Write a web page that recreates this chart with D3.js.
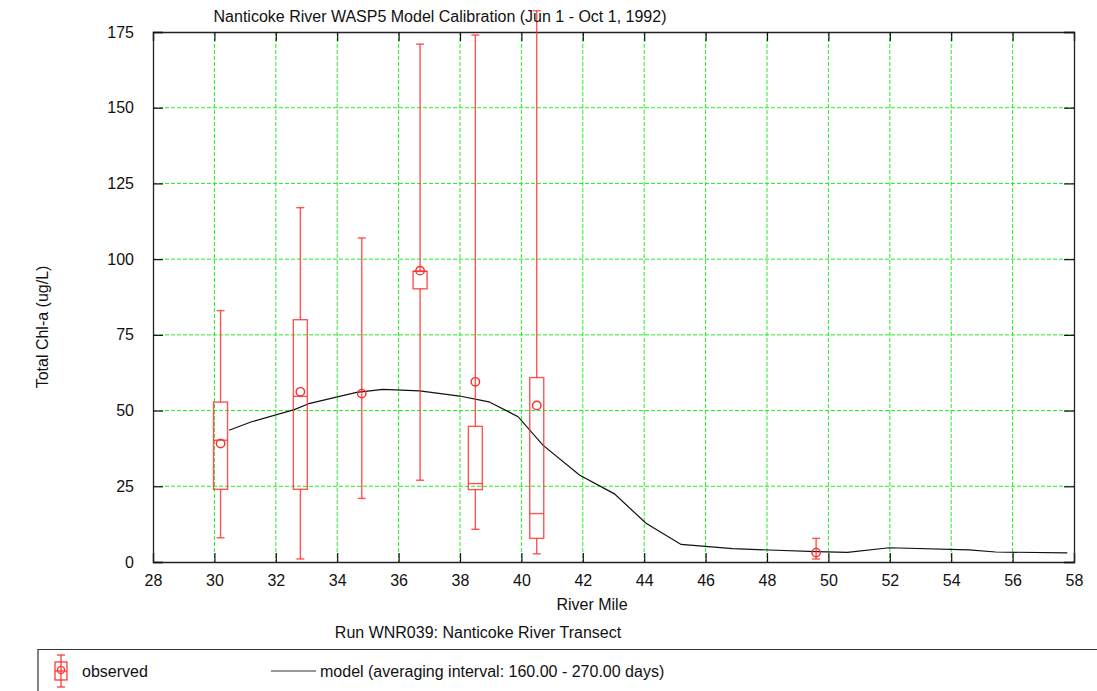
<!DOCTYPE html>
<html><head><meta charset="utf-8">
<script src="https://cdn.jsdelivr.net/npm/d3@7"></script>
<style>body{margin:0;background:#fff;} text{font-family:"Liberation Sans",Arial,sans-serif;}</style>
</head><body><svg id="c" width="1097" height="691"></svg>
<script>
// Observed stations (river mile) and statistics
const obsMile   = [30.2, 32.8, 34.8, 36.7, 38.5, 40.5, 49.6];
const obsMin    = [8, 1, 21, 27, 10.8, 2.7, 1.0];
const obsQ1     = [24, 24, null, 90.2, 23.9, 7.8, null];
const obsMedian = [40.2, 54.7, null, 96, 25.9, 16, null];
const obsQ3     = [52.8, 80, null, 96, 44.8, 60.9, null];
const obsMax    = [83, 117, 107, 171, 174, 182, 7.8];
const obsMean   = [39.1, 56.2, 55.6, 96.2, 59.5, 51.7, 3.1];
// Model transect
const modelMile = [30.48,31.21,32.60,33.11,34.63,35.49,36.69,37.99,38.94,39.89,40.70,41.89,43.03,44.06,45.20,46.88,49.60,50.62,51.98,54.58,55.45,57.78];
const modelChl  = [43.5,46.3,50.3,52.4,56.0,57.0,56.5,54.8,52.9,48.0,38.6,28.7,22.5,12.8,5.8,4.4,3.4,3.2,4.7,4.0,3.3,3.0];
const xTicks = [28,30,32,34,36,38,40,42,44,46,48,50,52,54,56,58];
const yTicks = [0,25,50,75,100,125,150,175];

const svg = d3.select("#c");
const L=153, R=1074, T=32, B=562;
const x = d3.scaleLinear().domain([28,58]).range([L,R]);
const y = d3.scaleLinear().domain([0,175]).range([B,T]);
const green="#22ee22", red="#ff2a2a";

// grid
svg.append("g").selectAll("line").data(xTicks.slice(1,-1)).join("line")
  .attr("x1",d=>x(d)).attr("x2",d=>x(d)).attr("y1",T).attr("y2",B)
  .attr("stroke",green).attr("stroke-dasharray","4,2");
svg.append("g").selectAll("line").data(yTicks.slice(1,-1)).join("line")
  .attr("y1",d=>y(d)).attr("y2",d=>y(d)).attr("x1",L).attr("x2",R)
  .attr("stroke",green).attr("stroke-dasharray","4,2");

// axes with inward ticks
const fs = "16px";
const gb = svg.append("g").attr("transform",`translate(0,${B})`)
  .call(d3.axisBottom(x).tickValues(xTicks).tickSize(-9).tickPadding(13).tickFormat(d3.format("d")));
const gt = svg.append("g").attr("transform",`translate(0,${T})`)
  .call(d3.axisTop(x).tickValues(xTicks).tickSize(-9).tickFormat(""));
const gl = svg.append("g").attr("transform",`translate(${L},0)`)
  .call(d3.axisLeft(y).tickValues(yTicks).tickSize(-10).tickPadding(19));
const gr = svg.append("g").attr("transform",`translate(${R},0)`)
  .call(d3.axisRight(y).tickValues(yTicks).tickSize(-10).tickFormat(""));
[gb,gt,gl,gr].forEach(g=>{
  g.select(".domain").attr("stroke","#222").attr("stroke-width",1.3);
  g.selectAll(".tick line").attr("stroke","#111").attr("stroke-width",1.2);
  g.selectAll("text").attr("font-size",fs).attr("fill","#111")
    .style("font-family","'Liberation Sans',Arial,sans-serif");
});

// model line
svg.append("path").datum(modelMile.map((m,i)=>[m,modelChl[i]]))
  .attr("d",d3.line().x(d=>x(d[0])).y(d=>y(d[1])))
  .attr("fill","none").attr("stroke","#111").attr("stroke-width",1.2);

// observed boxes
const bw = 14, cw = 8;
const g = svg.append("g").attr("stroke",red).attr("fill","none").attr("stroke-width",1.4).attr("stroke-opacity",0.8);
obsMile.forEach((m,i)=>{
  const cx = x(m);
  const lo = obsQ1[i]!=null?obsQ1[i]:obsMean[i], hi = obsQ3[i]!=null?obsQ3[i]:obsMean[i];
  g.append("line").attr("x1",cx).attr("x2",cx).attr("y1",y(obsMax[i])).attr("y2",y(hi));
  g.append("line").attr("x1",cx).attr("x2",cx).attr("y1",y(lo)).attr("y2",y(obsMin[i]));
  g.append("line").attr("x1",cx-cw/2).attr("x2",cx+cw/2).attr("y1",y(obsMax[i])).attr("y2",y(obsMax[i]));
  g.append("line").attr("x1",cx-cw/2).attr("x2",cx+cw/2).attr("y1",y(obsMin[i])).attr("y2",y(obsMin[i]));
  if(obsQ1[i]!=null){
    g.append("rect").attr("x",cx-bw/2).attr("width",bw).attr("y",y(obsQ3[i])).attr("height",y(obsQ1[i])-y(obsQ3[i]));
    g.append("line").attr("x1",cx-bw/2).attr("x2",cx+bw/2).attr("y1",y(obsMedian[i])).attr("y2",y(obsMedian[i]));
  }
  g.append("circle").attr("cx",cx).attr("cy",y(obsMean[i])).attr("r",4.2).attr("stroke-opacity",1);
});

// texts
svg.append("text").attr("x",440).attr("y",22).attr("text-anchor","middle").attr("font-size","16px").attr("fill","#111")
  .text("Nanticoke River WASP5 Model Calibration (Jun 1 - Oct 1, 1992)");
svg.append("text").attr("transform",`translate(48,327) rotate(-90)`).attr("text-anchor","middle").attr("font-size","16px").attr("fill","#111")
  .text("Total Chl-a (ug/L)");
svg.append("text").attr("x",592).attr("y",610).attr("text-anchor","middle").attr("font-size","16px").attr("fill","#111").text("River Mile");
svg.append("text").attr("x",478).attr("y",638).attr("text-anchor","middle").attr("font-size","16px").attr("fill","#111").text("Run WNR039: Nanticoke River Transect");

// legend
svg.append("path").attr("d","M38,700 V649.5 H1097").attr("fill","none").attr("stroke","#333").attr("stroke-width",1.2);
const lg = svg.append("g").attr("stroke",red).attr("fill","none").attr("stroke-width",1.2);
const lx=61, ly=671;
lg.append("line").attr("x1",lx).attr("x2",lx).attr("y1",ly-16).attr("y2",ly+16);
lg.append("line").attr("x1",lx-4).attr("x2",lx+4).attr("y1",ly-16).attr("y2",ly-16);
lg.append("line").attr("x1",lx-4).attr("x2",lx+4).attr("y1",ly+16).attr("y2",ly+16);
lg.append("rect").attr("x",lx-6).attr("y",ly-9).attr("width",12).attr("height",18).attr("fill","#fff");
lg.append("line").attr("x1",lx-6).attr("x2",lx+6).attr("y1",ly).attr("y2",ly);
lg.append("circle").attr("cx",lx).attr("cy",ly-1).attr("r",3.5);
lg.append("line").attr("x1",lx).attr("x2",lx).attr("y1",ly-9).attr("y2",ly+9);
svg.append("text").attr("x",82).attr("y",677).attr("font-size","16px").attr("fill","#111").text("observed");
svg.append("line").attr("x1",271).attr("x2",316).attr("y1",671).attr("y2",671).attr("stroke","#333").attr("stroke-width",1.2);
svg.append("text").attr("x",320).attr("y",677).attr("font-size","16px").attr("fill","#111").text("model (averaging interval: 160.00 - 270.00 days)");
</script></body></html>
